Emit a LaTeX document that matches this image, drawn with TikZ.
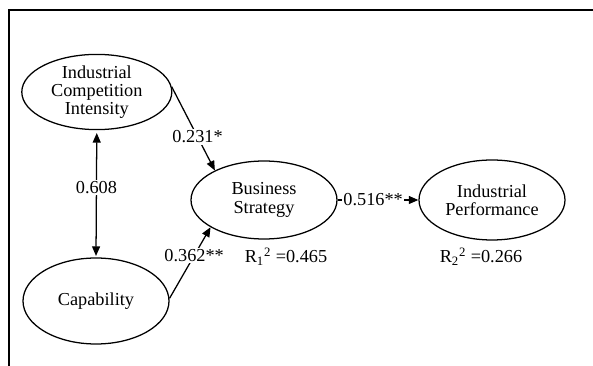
\documentclass[tikz,border=0pt]{standalone}
\usepackage{fontspec}
\setmainfont{Liberation Serif}
\usepackage{tikz}
\usetikzlibrary{shapes,arrows.meta,positioning}

\begin{document}
\begin{tikzpicture}[
    every node/.style={font=\fontsize{13pt}{13pt}\selectfont},
    latent/.style={draw,ellipse,line width=0.9pt,inner sep=0pt,align=center},
    coef/.style={fill=white,inner sep=1pt},
    link/.style={line width=0.9pt,-{Triangle[length=2.4mm,width=2mm]}}
]
    \useasboundingbox (0,0) rectangle (14.825,9.15);
    \draw[line width=1.5pt] (0.225,0) -- (0.225,8.9) -- (14.9,8.9);

    \node[latent,minimum width=3.75cm,minimum height=1.85cm] (ici) at (2.42,6.85) {Industrial\\Competition\\Intensity};
    \node[latent,minimum width=3.65cm,minimum height=2.15cm] (cap) at (2.4,1.625) {Capability};
    \node[latent,minimum width=3.65cm,minimum height=1.95cm] (bs) at (6.6,4.15) {Business\\Strategy};
    \node[latent,minimum width=3.65cm,minimum height=2.0cm] (ip) at (12.3,4.15) {Industrial\\Performance};

    \node (r1) at (7.15,2.725) {R\textsubscript{1}\textsuperscript{2} =0.465};
    \node (r2) at (12.025,2.725) {R\textsubscript{2}\textsuperscript{2} =0.266};

    \draw[link] (ici.4) -- node[coef,pos=0.6] (c1) {0.231*} (bs.149);
    \draw[link] (cap.2) -- node[coef,pos=0.6] (c2) {0.362**} (bs.207);
    \draw[link] (bs.east) -- node[coef,pos=0.44] (c3) {0.516**} (ip.west);
    \draw[link,{Triangle[length=2.4mm,width=2mm]}-{Triangle[length=2.4mm,width=2mm]},shorten <=2pt,shorten >=1pt] (ici.south) -- node[coef,pos=0.45] (c4) {0.608} (cap.north);
\end{tikzpicture}
\end{document}
